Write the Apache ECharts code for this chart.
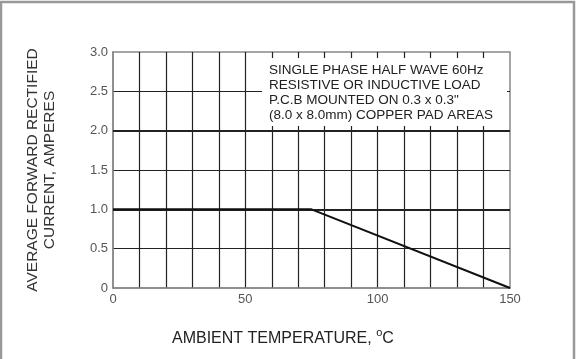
<!DOCTYPE html>
<html>
<head>
<meta charset="utf-8">
<script src="https://cdn.jsdelivr.net/npm/echarts@6/dist/echarts.min.js"></script>
<style>
  html, body { margin: 0; padding: 0; background: #fff; }
  #chart { width: 576px; height: 359px; }
</style>
</head>
<body>
<div id="chart"></div>
<script>
// derating curve: ambient temp (C) -> average forward current (A)
const temps = [0, 75, 150];
const currents = [1.0, 1.0, 0];
const boldLevels = [1.0, 2.0];
const noteLines = [
    "SINGLE PHASE HALF WAVE 60Hz",
    "RESISTIVE OR INDUCTIVE LOAD",
    "P.C.B MOUNTED ON 0.3 x 0.3\"",
    "(8.0 x 8.0mm) COPPER PAD AREAS"
];
const yTitle = ["AVERAGE FORWARD RECTIFIED", "CURRENT, AMPERES"];

const font = "'Liberation Sans', Arial, sans-serif";
const chart = echarts.init(document.getElementById("chart"));

chart.setOption({
    backgroundColor: "#fff",
    animation: false,
    textStyle: { fontFamily: font },

    title: {
        text: "{t|AMBIENT TEMPERATURE, }{s|o}{t|C}",
        left: 167,
        top: 322,
        textStyle: {
            fontWeight: "normal",
            rich: {
                t: { fontSize: 16, lineHeight: 24, color: "#222", fontFamily: font, fontWeight: "normal" },
                s: { fontSize: 11, lineHeight: 14, color: "#222", fontFamily: font, fontWeight: "normal", verticalAlign: "top" }
            }
        }
    },

    grid: {
        left: 113, top: 52, right: 66, bottom: 71,
        show: true,
        borderColor: "#888",
        borderWidth: 1.5
    },

    xAxis: {
        type: "value",
        min: 0, max: 150, interval: 10,
        axisLine: { show: true, lineStyle: { color: "#888", width: 1.5 } },
        axisTick: { show: false },
        axisLabel: {
            color: "#555", fontSize: 13, margin: 5,
            formatter: v => (v % 50 === 0 ? String(v) : "")
        },
        splitLine: {
            show: true, showMinLine: false, showMaxLine: false,
            lineStyle: { color: "#222", width: 1.2 }
        }
    },

    yAxis: {
        type: "value",
        min: 0, max: 3, interval: 0.5,
        name: yTitle.join("\n"),
        nameLocation: "middle",
        nameGap: 55,
        nameTextStyle: { color: "#333", fontSize: 15.5, lineHeight: 17 },
        axisLine: { show: true, lineStyle: { color: "#888", width: 1.5 } },
        axisTick: { show: false },
        axisLabel: {
            color: "#555", fontSize: 13, margin: 5,
            formatter: v => (v === 0 ? "0" : v.toFixed(1))
        },
        splitLine: {
            show: true, showMinLine: false, showMaxLine: false,
            lineStyle: { color: "#222", width: 1 }
        }
    },

    series: [
        {
            type: "line",
            data: temps.map((t, i) => [t, currents[i]]),
            symbol: "none",
            lineStyle: { color: "#111", width: 2 },
            z: 5,
            markLine: {
                silent: true,
                symbol: "none",
                label: { show: false },
                lineStyle: { color: "#222", width: 2, type: "solid" },
                data: boldLevels.map(v => ({ yAxis: v }))
            }
        }
    ],

    graphic: [
        {
            type: "rect",
            z: 10,
            shape: { x: 262, y: 58, width: 245, height: 68 },
            style: { fill: "#fff" }
        },
        {
            type: "text",
            z: 11,
            left: 269,
            top: 63,
            style: {
                text: noteLines.join("\n"),
                font: "13.5px " + font,
                lineHeight: 15,
                fill: "#222"
            }
        },
        {
            type: "rect",
            z: 20,
            silent: true,
            shape: { x: 1, y: 2, width: 573, height: 400 },
            style: { fill: "none", stroke: "#999", lineWidth: 2.5 }
        }
    ]
});
</script>
</body>
</html>
